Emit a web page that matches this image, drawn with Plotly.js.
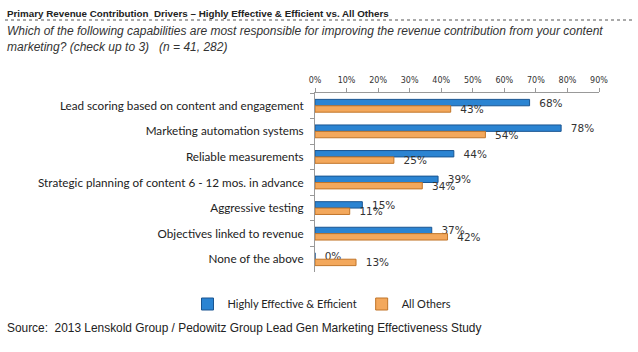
<!DOCTYPE html>
<html><head><meta charset="utf-8">
<script src="https://cdn.plot.ly/plotly-3.0.1.min.js"></script>
<style>body{margin:0;background:#fff}#c{width:638px;height:352px}</style>
</head><body><div id="c"></div>
<script>
const categories = [
  "Lead scoring based on content and engagement",
  "Marketing automation systems",
  "Reliable measurements",
  "Strategic planning of content 6 - 12 mos. in advance",
  "Aggressive testing",
  "Objectives linked to revenue",
  "None of the above"
];
const highlyEffective = [0.68, 0.78, 0.44, 0.39, 0.15, 0.37, 0.00];
const allOthers = [0.43, 0.54, 0.25, 0.34, 0.11, 0.42, 0.13];
const seriesNames = ["Highly Effective & Efficient", "All Others"];

const L = 315, R = 599, T = 93, B = 272;
const px = x => (x - L) / (R - L);
const py = y => (B - y) / (B - T);
const narrow = '"Liberation Sans Narrow", "Arial Narrow", "Liberation Sans", Arial, sans-serif';
const calib = 'Lato, "Open Sans", sans-serif';
const verd = '"DejaVu Sans", Verdana, sans-serif';

const traces = [
  {type:'bar', orientation:'h', name:seriesNames[0], y:categories, x:highlyEffective,
   marker:{color:'#2b84d2', line:{color:'#1a5591', width:1}},
   texttemplate:'\u00a0\u00a0%{x:.0%}', textposition:'outside', cliponaxis:false,
   constraintext:'none', textfont:{family:verd, size:10.5, color:'#333'}},
  {type:'bar', orientation:'h', name:seriesNames[1], y:categories, x:allOthers,
   marker:{color:'#f3a85c', line:{color:'#c17529', width:1}},
   texttemplate:'\u00a0\u00a0%{x:.0%}', textposition:'outside', cliponaxis:false,
   constraintext:'none', textfont:{family:verd, size:10.5, color:'#333'}}
];

const layout = {
  width:638, height:352,
  margin:{l:L, r:638-R, t:T, b:352-B, pad:0},
  paper_bgcolor:'#fff', plot_bgcolor:'#fff',
  barmode:'group', bargap:0.5, bargroupgap:0,
  showlegend:true,
  legend:{orientation:'h', x:px(322), xanchor:'center', y:py(304), yanchor:'middle',
    font:{family:calib, size:11, color:'#222'}, tracegroupgap:0},
  xaxis:{side:'top', range:[0,0.9], dtick:0.1, tickformat:'.0%', showgrid:false, zeroline:false,
    showline:true, linecolor:'#999', linewidth:1, ticks:'outside', ticklen:4, tickcolor:'#999',
    ticklabelstandoff:2,
    tickfont:{family:verd, size:8, color:'#333'}, fixedrange:true},
  yaxis:{autorange:false, range:[6.5,-0.5], type:'category', showgrid:false, zeroline:false,
    showline:true, linecolor:'#999', linewidth:1, ticks:'outside', ticklen:4, tickcolor:'#999',
    tickson:'boundaries', ticklabelstandoff:8,
    tickfont:{family:calib, size:11.7, color:'#222'}},
  shapes:[{type:'line', xref:'paper', yref:'paper', x0:px(5), x1:px(633), y0:py(20), y1:py(20),
    line:{color:'#555', width:1, dash:'dot'}}],
  annotations:[
    {xref:'paper', yref:'paper', x:px(5), y:py(13), xanchor:'left', yanchor:'middle', showarrow:false,
     text:'<b>Primary Revenue Contribution  Drivers – Highly Effective & Efficient vs. All Others</b>',
     font:{family:narrow, size:9.8, color:'#222'}},
    {xref:'paper', yref:'paper', x:px(5), y:py(39), xanchor:'left', yanchor:'middle', showarrow:false, align:'left',
     text:'<i>Which of the following capabilities are most responsible for improving the revenue contribution from your content<br>marketing? (check up to 3)   (n = 41, 282)</i>',
     font:{family:narrow, size:12, color:'#333'}},
    {xref:'paper', yref:'paper', x:px(5), y:py(328), xanchor:'left', yanchor:'middle', showarrow:false,
     text:'Source:  2013 Lenskold Group / Pedowitz Group Lead Gen Marketing Effectiveness Study',
     font:{family:narrow, size:11.9, color:'#222'}}
  ]
};
Plotly.newPlot('c', traces, layout, {displayModeBar:false, staticPlot:true});
</script></body></html>
